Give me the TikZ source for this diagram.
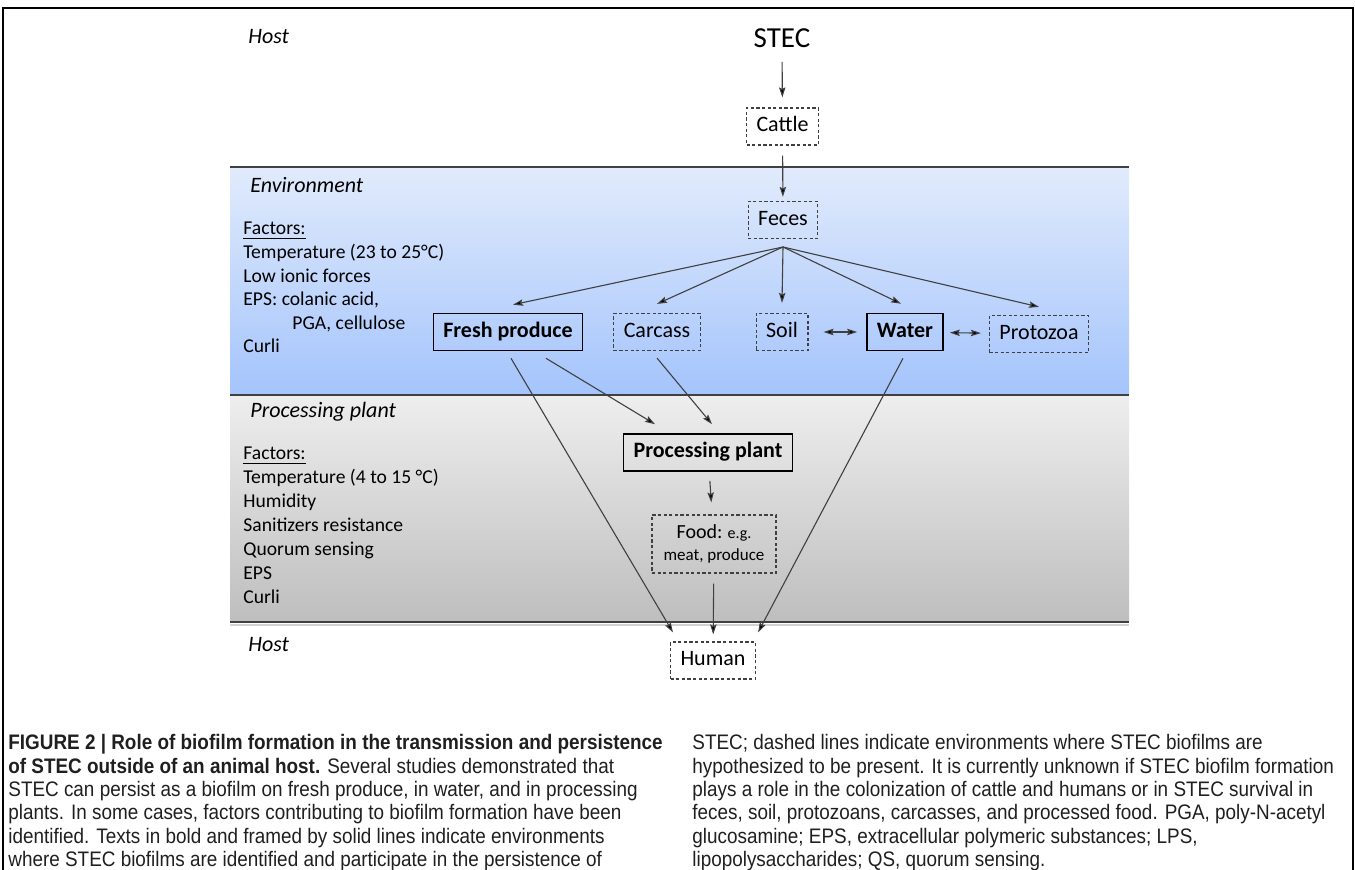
\documentclass[tikz,border=0pt]{standalone}
\usepackage{fontspec}
\setmainfont{Carlito}
\newfontfamily\capfont[FakeStretch=0.9]{Liberation Sans}
\usetikzlibrary{positioning, arrows.meta}
\definecolor{envtop}{RGB}{225,235,252}
\definecolor{envbot}{RGB}{164,196,252}
\definecolor{plnttop}{RGB}{238,238,238}
\definecolor{plntbot}{RGB}{190,190,190}
\definecolor{linegray}{RGB}{64,64,64}
\tikzset{
  >={Stealth[length=5pt, width=3.2pt, inset=0.8pt]},
  solidbox/.style={draw=black, line width=0.8pt, font=\fontsize{11}{13}\selectfont\bfseries,
    inner xsep=5pt, minimum height=18.5pt, text height=7.5pt, text depth=2.2pt},
  dashbox/.style={draw=linegray, dash pattern=on 1.6pt off 1.2pt, line width=0.6pt,
    font=\fontsize{11}{13}\selectfont, inner xsep=5pt, minimum height=18.5pt,
    text height=7.5pt, text depth=2.2pt},
  link/.style={draw=linegray, line width=0.55pt, every edge/.append style={->}},
  zonelabel/.style={anchor=west, inner sep=0pt, font=\fontsize{11}{13}\selectfont\itshape},
  factorlist/.style={anchor=north west, inner sep=0pt, align=left,
    font=\fontsize{9.8}{11.8}\selectfont},
  captext/.style={anchor=north west, inner sep=0pt, align=left, text=black!88,
    font=\capfont\fontsize{10.5}{11.7}\selectfont},
  zoneline/.style={draw=linegray, line width=1pt}
}
\begin{document}
\begin{tikzpicture}[x=0.5pt, y=-0.5pt]
  \useasboundingbox (0,0) rectangle (1355,870);
  % frame and bands
  \draw[line width=0.8pt] (3,870) -- (3,8) -- (1353,8) -- (1353,870);
  \shade[top color=envtop, bottom color=envbot] (230,167) rectangle (1129,395);
  \shade[top color=plnttop, bottom color=plntbot] (230,395) rectangle (1129,622);
  \draw[gray!35, line width=1pt] (230,625) -- (1129,625);
  \draw[zoneline] (230,167) -- (1129,167);
  \draw[zoneline] (230,395) -- (1129,395);
  \draw[zoneline] (230,622) -- (1129,622);

  % zone labels and factors
  \node[zonelabel] (hosttop) at (248,37) {Host};
  \node[zonelabel] (envlabel) at (250,185) {Environment};
  \node[factorlist] (envfactors) at (243,222) {\underline{Factors:}\\
    Temperature (23 to 25°C)\\ Low ionic forces\\ EPS: colanic acid,\\
    \hspace*{24.5pt}PGA, cellulose\\ Curli};
  \node[zonelabel] (plantlabel) at (250,412) {Processing plant};
  \node[factorlist, font=\fontsize{9.8}{12}\selectfont] (plantfactors) at (243,447) {\underline{Factors:}\\
    Temperature (4 to 15 °C)\\ Humidity\\ Sanitizers resistance\\
    Quorum sensing\\ EPS\\ Curli};
  \node[zonelabel] (hostbot) at (248,645) {Host};

  % nodes
  \node[inner sep=0pt, font=\fontsize{14.5}{17}\selectfont] (stec) at (782,38) {STEC};
  \node[dashbox] (cattle) at (782.5,126.5) {Cattle};
  \node[dashbox] (feces) at (783,220) {Feces};
  \coordinate (fork) at (783,247);
  \node[solidbox] (fresh) at (508,332) {Fresh produce};
  \node[dashbox] (carcass) at (657,332) {Carcass};
  \node[dashbox] (soil) at (782,332) {Soil};
  \node[solidbox] (water) at (905,332) {Water};
  \node[dashbox] (protozoa) at (1039,334) {Protozoa};
  \node[solidbox] (plant) at (708,452.5) {Processing plant};
  \node[dashbox, text height=, text depth=, align=center, minimum width=62pt,
    minimum height=29pt, font=\fontsize{8.5}{11}\selectfont] (food) at (714,544)
    {{\fontsize{10}{11}\selectfont Food:} {\fontsize{8}{11}\selectfont e.g.}\\ meat, produce};
  \node[dashbox] (human) at (713,660.5) {Human};

  % connectors
  \draw[link] (stec) edge[shorten <=7pt, shorten >=5pt] (cattle);
  \draw[link] (cattle) edge[shorten <=5pt, shorten >=2pt] (feces);
  \draw[link] (fork) edge ([xshift=2.5pt,yshift=4pt]fresh.north)
    edge ([yshift=4.5pt]carcass.north)
    edge ([yshift=5pt]soil.north)
    edge ([xshift=-2pt,yshift=4.5pt]water.north)
    edge ([yshift=4pt]protozoa.north);
  \draw[link] (soil) edge[<->, shorten <=7.5pt, shorten >=4.5pt] (water);
  \draw[link] (water) edge[<->, shorten <=3pt, shorten >=4pt] (protozoa);
  \draw[link] ([xshift=1.5pt,yshift=-3.5pt]fresh.south) edge ([xshift=1.5pt,yshift=4.5pt]human.north west);
  \draw[link] ([xshift=19pt,yshift=-3.5pt]fresh.south) edge ([xshift=-26.5pt,yshift=4.5pt]plant.north);
  \draw[link] ([yshift=-3.5pt]carcass.south) edge ([xshift=2pt,yshift=4.5pt]plant.north);
  \draw[link] ([xshift=-1pt,yshift=-3.5pt]water.south) edge ([xshift=1pt,yshift=4.5pt]human.north east);
  \draw[link] (plant) edge[shorten <=4.5pt, shorten >=6pt] (food);
  \draw[link] (food) edge[shorten <=5pt, shorten >=3.5pt] (human);

  % caption
  \node[captext] (capleft) at (8,734) {%
    \textbf{FIGURE 2 | Role of biofilm formation in the transmission and persistence}\\
    \textbf{of STEC outside of an animal host.} Several studies demonstrated that\\
    STEC can persist as a biofilm on fresh produce, in water, and in processing\\
    plants. In some cases, factors contributing to biofilm formation have been\\
    identified. Texts in bold and framed by solid lines indicate environments\\
    where STEC biofilms are identified and participate in the persistence of};
  \node[captext] (capright) at (692,734) {%
    STEC; dashed lines indicate environments where STEC biofilms are\\
    hypothesized to be present. It is currently unknown if STEC biofilm formation\\
    plays a role in the colonization of cattle and humans or in STEC survival in\\
    feces, soil, protozoans, carcasses, and processed food. PGA, poly-N-acetyl\\
    glucosamine; EPS, extracellular polymeric substances; LPS,\\
    lipopolysaccharides; QS, quorum sensing.};
\end{tikzpicture}
\end{document}
